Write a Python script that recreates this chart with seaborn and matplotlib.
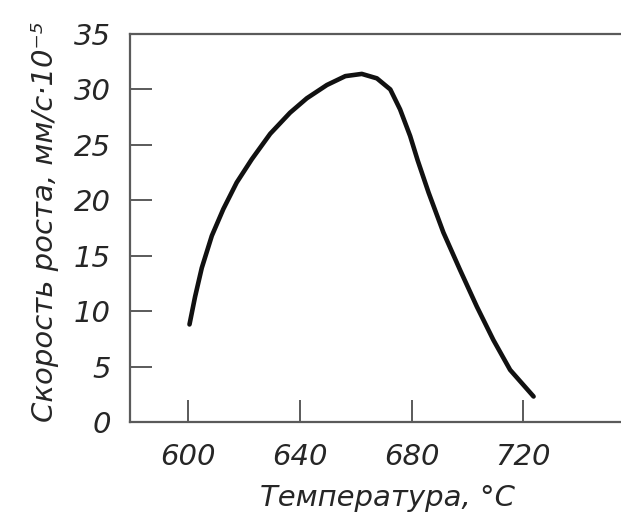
import matplotlib
matplotlib.use("Agg")
import matplotlib.pyplot as plt
import seaborn as sns
import pandas as pd

# Growth rate of the transformation product versus temperature
temperature = [600.5, 602.5, 604.9, 608.5, 612.6, 617.4, 622.8, 629.4, 636.5,
               642.5, 649.7, 656.3, 662.2, 667.6, 672.4, 675.9, 679.5, 682.2,
               686.1, 691.4, 697.4, 703.4, 709.3, 715.3, 723.7]
growth_rate = [8.8, 11.3, 13.9, 16.8, 19.2, 21.6, 23.7, 26.0, 27.9,
               29.2, 30.4, 31.2, 31.4, 31.0, 30.0, 28.2, 25.8, 23.6,
               20.7, 17.1, 13.7, 10.4, 7.4, 4.7, 2.3]

x_ticks = [600, 640, 680, 720]
y_ticks = [0, 5, 10, 15, 20, 25, 30, 35]

x_label = "Температура, °C"
y_label = "Скорость роста, мм/с·10⁻⁵"

df = pd.DataFrame({"T": temperature, "v": growth_rate})

sns.set_theme(style="ticks")
plt.rcParams["font.family"] = ["DejaVu Sans"]
plt.rcParams["font.style"] = "italic"

ink = "#262626"
frame = "#5a5a5a"

fig = plt.figure(figsize=(6.21, 5.21), dpi=100)
ax = fig.add_axes([130 / 621, 1 - 422 / 521, 1 - 130 / 621, (422 - 34) / 521])

sns.lineplot(data=df, x="T", y="v", ax=ax, color="#111111", linewidth=3.3,
             sort=False, estimator=None, solid_joinstyle="round",
             solid_capstyle="round")

ax.set_xlim(579.2, 755.0)
ax.set_ylim(0, 35)
ax.set_xticks(x_ticks)
ax.set_yticks(y_ticks)
ax.set_xticklabels([str(t) for t in x_ticks])
ax.set_yticklabels([str(t) for t in y_ticks])

for side in ("left", "bottom", "top"):
    ax.spines[side].set_color(frame)
    ax.spines[side].set_linewidth(1.6)
ax.spines["right"].set_visible(False)

ax.tick_params(axis="both", direction="in", length=16, width=1.4,
               color=frame, labelcolor=ink, labelsize=21, pad=14)
ax.tick_params(axis="x", pad=15)
for lab in ax.get_xticklabels() + ax.get_yticklabels():
    lab.set_fontstyle("italic")

ax.set_xlabel(x_label, fontsize=21, color=ink, fontstyle="italic")
ax.set_ylabel(y_label, fontsize=21, color=ink, fontstyle="italic")
ax.xaxis.set_label_coords(0.525, -0.16)
ax.yaxis.set_label_coords(-0.145, 0.515)

fig.savefig("out.png", dpi=100, facecolor="white")
